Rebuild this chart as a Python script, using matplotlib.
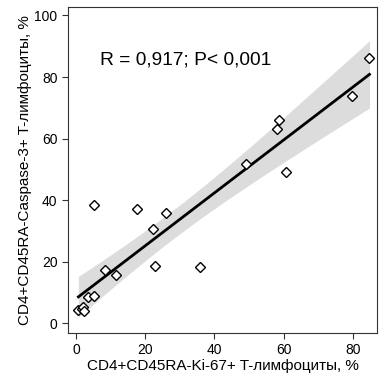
import numpy as np
import matplotlib
matplotlib.use("Agg")
import matplotlib.pyplot as plt

plt.rcParams['font.family'] = ['Liberation Sans', 'DejaVu Sans']

# Ki-67+ (x) vs Caspase-3+ (y), % of CD4+CD45RA- T cells
ki67 = [84.8, 79.8, 58.7, 58.1, 49.0, 60.7, 5.1, 17.7, 26.0, 22.3,
        22.9, 35.8, 8.5, 11.6, 3.6, 5.3, 0.7, 1.6, 2.1, 2.3]
casp3 = [86.2, 74.0, 66.1, 63.2, 51.7, 49.1, 38.5, 37.0, 36.0, 30.6,
         18.7, 18.3, 17.5, 15.6, 8.6, 9.0, 4.3, 4.8, 5.3, 4.2]
x_ticks = [0, 20, 40, 60, 80]
y_ticks = [0, 20, 40, 60, 80, 100]
stat_text = "R = 0,917; P< 0,001"

x = np.array(ki67)
y = np.array(casp3)

# linear fit + 95% CI of the mean
b, a = np.polyfit(x, y, 1)
n = len(x)
resid = y - (a + b * x)
s = np.sqrt(np.sum(resid ** 2) / (n - 2))
sxx = np.sum((x - x.mean()) ** 2)
t = 2.10
xs = np.linspace(x.min(), x.max(), 100)
ys = a + b * xs
se = s * np.sqrt(1 / n + (xs - x.mean()) ** 2 / sxx)

fig = plt.figure(figsize=(3.92, 3.83), dpi=100)
ax = fig.add_axes([0.1735, 0.1305, 0.7885, 0.851])

ax.fill_between(xs, ys - t * se, ys + t * se, color='#dcdcdc', lw=0)
ax.plot(xs, ys, color='black', lw=2)
ax.plot(x, y, 'D', mfc='white', mec='black', ms=5.5, mew=1)

ax.text(6.9, 85.5, stat_text, fontsize=13.8, va='center')

ax.set_xlim(-2.3, 87)
ax.set_ylim(-3.1, 102.7)
ax.set_xticks(x_ticks)
ax.set_yticks(y_ticks)
ax.tick_params(labelsize=10, length=4, color='#333333')
for sp in ax.spines.values():
    sp.set_color('#333333')
    sp.set_linewidth(0.8)

ax.set_xlabel("CD4+CD45RA-Ki-67+ T-лимфоциты, %", fontsize=11, labelpad=1)
ax.set_ylabel("CD4+CD45RA-Caspase-3+ T-лимфоциты, %", fontsize=11, labelpad=2)

fig.savefig("out.png", dpi=100)
